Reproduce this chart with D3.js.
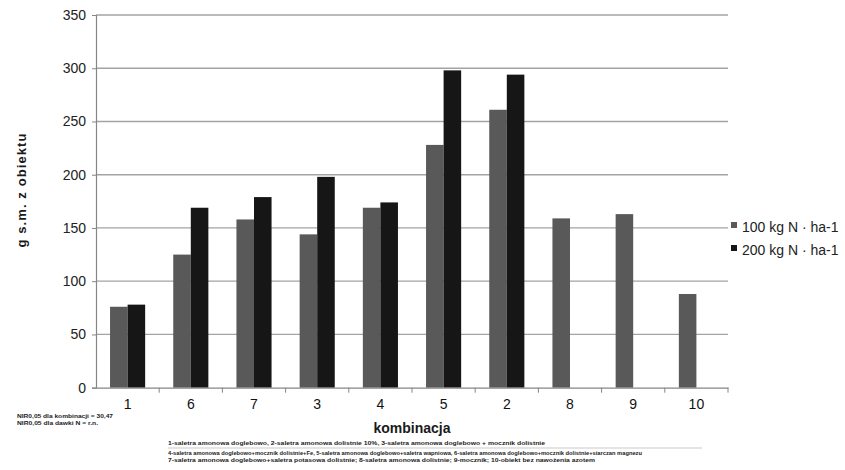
<!DOCTYPE html>
<html>
<head>
<meta charset="utf-8">
<script src="https://cdn.jsdelivr.net/npm/d3@7"></script>
<style>
  html, body { margin: 0; padding: 0; background: #fff; }
  svg { display: block; font-family: "Liberation Sans", Arial, sans-serif; }
</style>
</head>
<body>
<div id="chart"></div>
<script>
// dane
const categories = ["1", "6", "7", "3", "4", "5", "2", "8", "9", "10"];
const seriesNames = ["100 kg N · ha-1", "200 kg N · ha-1"];
const values100 = [76, 125, 158, 144, 169, 228, 261, 159, 163, 88];
const values200 = [78, 169, 179, 198, 174, 298, 294, null, null, null];
const yTicks = [0, 50, 100, 150, 200, 250, 300, 350];
const notesLeft = ["NIR0,05 dla kombinacji = 30,47", "NIR0,05 dla dawki N = r.n."];
const notesBottom = [
  "1-saletra amonowa doglebowo, 2-saletra amonowa dolistnie 10%, 3-saletra amonowa doglebowo + mocznik dolistnie",
  "4-saletra amonowa doglebowo+mocznik dolistnie+Fe, 5-saletra amonowa doglebowo+saletra wapniowa, 6-saletra amonowa doglebowo+mocznik dolistnie+siarczan magnezu",
  "7-saletra amonowa doglebowo+saletra potasowa dolistnie; 8-saletra amonowa dolistnie; 9-mocznik; 10-obiekt bez nawożenia azotem"
];

const width = 845;
const height = 470;
const margin = { top: 15, right: 117, bottom: 82, left: 96 };
const colors = ["#595959", "#161616"];

const svg = d3.select("#chart").append("svg")
  .attr("width", width)
  .attr("height", height);

const x = d3.scaleBand()
  .domain(categories)
  .range([margin.left, width - margin.right]);

const y = d3.scaleLinear()
  .domain([0, 350])
  .range([height - margin.bottom - 0.3, margin.top]);

// szerokość grupy słupków (przerwa 80%)
const groupW = x.bandwidth() / 1.8;
const xSub = d3.scaleBand()
  .domain([0, 1])
  .range([0, groupW]);

// linie siatki
svg.append("g")
  .selectAll("line")
  .data(yTicks.filter(d => d > 0))
  .join("line")
  .attr("x1", margin.left)
  .attr("x2", width - margin.right)
  .attr("y1", d => y(d))
  .attr("y2", d => y(d))
  .attr("stroke", "#a3a3a3")
  .attr("stroke-width", 1.3);

// słupki
const rows = categories.map((c, i) => ({ c, v: [values100[i], values200[i]] }));
const groups = svg.append("g")
  .selectAll("g")
  .data(rows)
  .join("g")
  .attr("transform", d => `translate(${x(d.c) + (x.bandwidth() - groupW) / 2},0)`);

groups.selectAll("rect")
  .data(d => d.v.map((v, s) => ({ v, s })).filter(e => e.v != null))
  .join("rect")
  .attr("x", d => xSub(d.s))
  .attr("width", xSub.bandwidth())
  .attr("y", d => y(d.v))
  .attr("height", d => y(0) - y(d.v))
  .attr("fill", d => colors[d.s]);

// oś Y
const yAxis = svg.append("g")
  .attr("transform", `translate(${margin.left},0)`)
  .call(d3.axisLeft(y).tickValues(yTicks).tickSize(4).tickPadding(6));
yAxis.select(".domain").attr("stroke", "#868686").attr("stroke-width", 1.2);
yAxis.selectAll(".tick line").attr("stroke", "#868686");
yAxis.selectAll(".tick text")
  .attr("font-size", 14)
  .attr("fill", "#222")
  .attr("font-family", "Liberation Sans, Arial, sans-serif");

// oś X
const xAxis = svg.append("g")
  .attr("transform", `translate(0,${y(0)})`)
  .call(d3.axisBottom(x).tickSize(0).tickPadding(11));
xAxis.select(".domain").attr("stroke", "#868686").attr("stroke-width", 1.2);
xAxis.selectAll(".tick text")
  .attr("font-size", 14)
  .attr("fill", "#111")
  .attr("font-family", "Liberation Sans, Arial, sans-serif");

// znaczniki między kategoriami
svg.append("g")
  .selectAll("line")
  .data(categories)
  .join("line")
  .attr("x1", d => x(d) + x.bandwidth())
  .attr("x2", d => x(d) + x.bandwidth())
  .attr("y1", y(0))
  .attr("y2", y(0) + 5)
  .attr("stroke", "#868686");

// tytuły osi
svg.append("text")
  .attr("x", (margin.left + width - margin.right) / 2)
  .attr("y", 433)
  .attr("text-anchor", "middle")
  .attr("font-size", 14)
  .attr("font-weight", "bold")
  .attr("fill", "#1a1a1a")
  .text("kombinacja");

svg.append("text")
  .attr("transform", "translate(26,190) rotate(-90)")
  .attr("text-anchor", "middle")
  .attr("font-size", 13)
  .attr("font-weight", "bold")
  .attr("letter-spacing", 1.1)
  .attr("fill", "#1a1a1a")
  .text("g s.m. z obiektu");

// legenda
const legend = svg.append("g")
  .selectAll("g")
  .data(seriesNames)
  .join("g")
  .attr("transform", (d, i) => `translate(731,${227 + i * 23})`);
legend.append("rect")
  .attr("x", 0)
  .attr("y", -5)
  .attr("width", 6)
  .attr("height", 6)
  .attr("fill", (d, i) => colors[i]);
legend.append("text")
  .attr("x", 11)
  .attr("y", 5)
  .attr("font-size", 14)
  .attr("fill", "#222")
  .text(d => d);

// przypisy
const leftW = [96, 81];
svg.append("g")
  .selectAll("text")
  .data(notesLeft)
  .join("text")
  .attr("x", 17)
  .attr("y", (d, i) => 418 + i * 7)
  .attr("font-size", 5.5)
  .attr("font-weight", "bold")
  .attr("fill", "#222")
  .attr("textLength", (d, i) => leftW[i])
  .attr("lengthAdjust", "spacingAndGlyphs")
  .text(d => d);

const bottomW = [377, 474, 427];
const bottomY = [445, 455, 462];
svg.append("g")
  .selectAll("text")
  .data(notesBottom)
  .join("text")
  .attr("x", 168)
  .attr("y", (d, i) => bottomY[i])
  .attr("font-size", 5.5)
  .attr("font-weight", "bold")
  .attr("fill", "#222")
  .attr("textLength", (d, i) => bottomW[i])
  .attr("lengthAdjust", "spacingAndGlyphs")
  .text(d => d);

svg.append("line")
  .attr("x1", 168)
  .attr("x2", 702)
  .attr("y1", 448)
  .attr("y2", 448)
  .attr("stroke", "#bbb")
  .attr("stroke-width", 0.8);
</script>
</body>
</html>
